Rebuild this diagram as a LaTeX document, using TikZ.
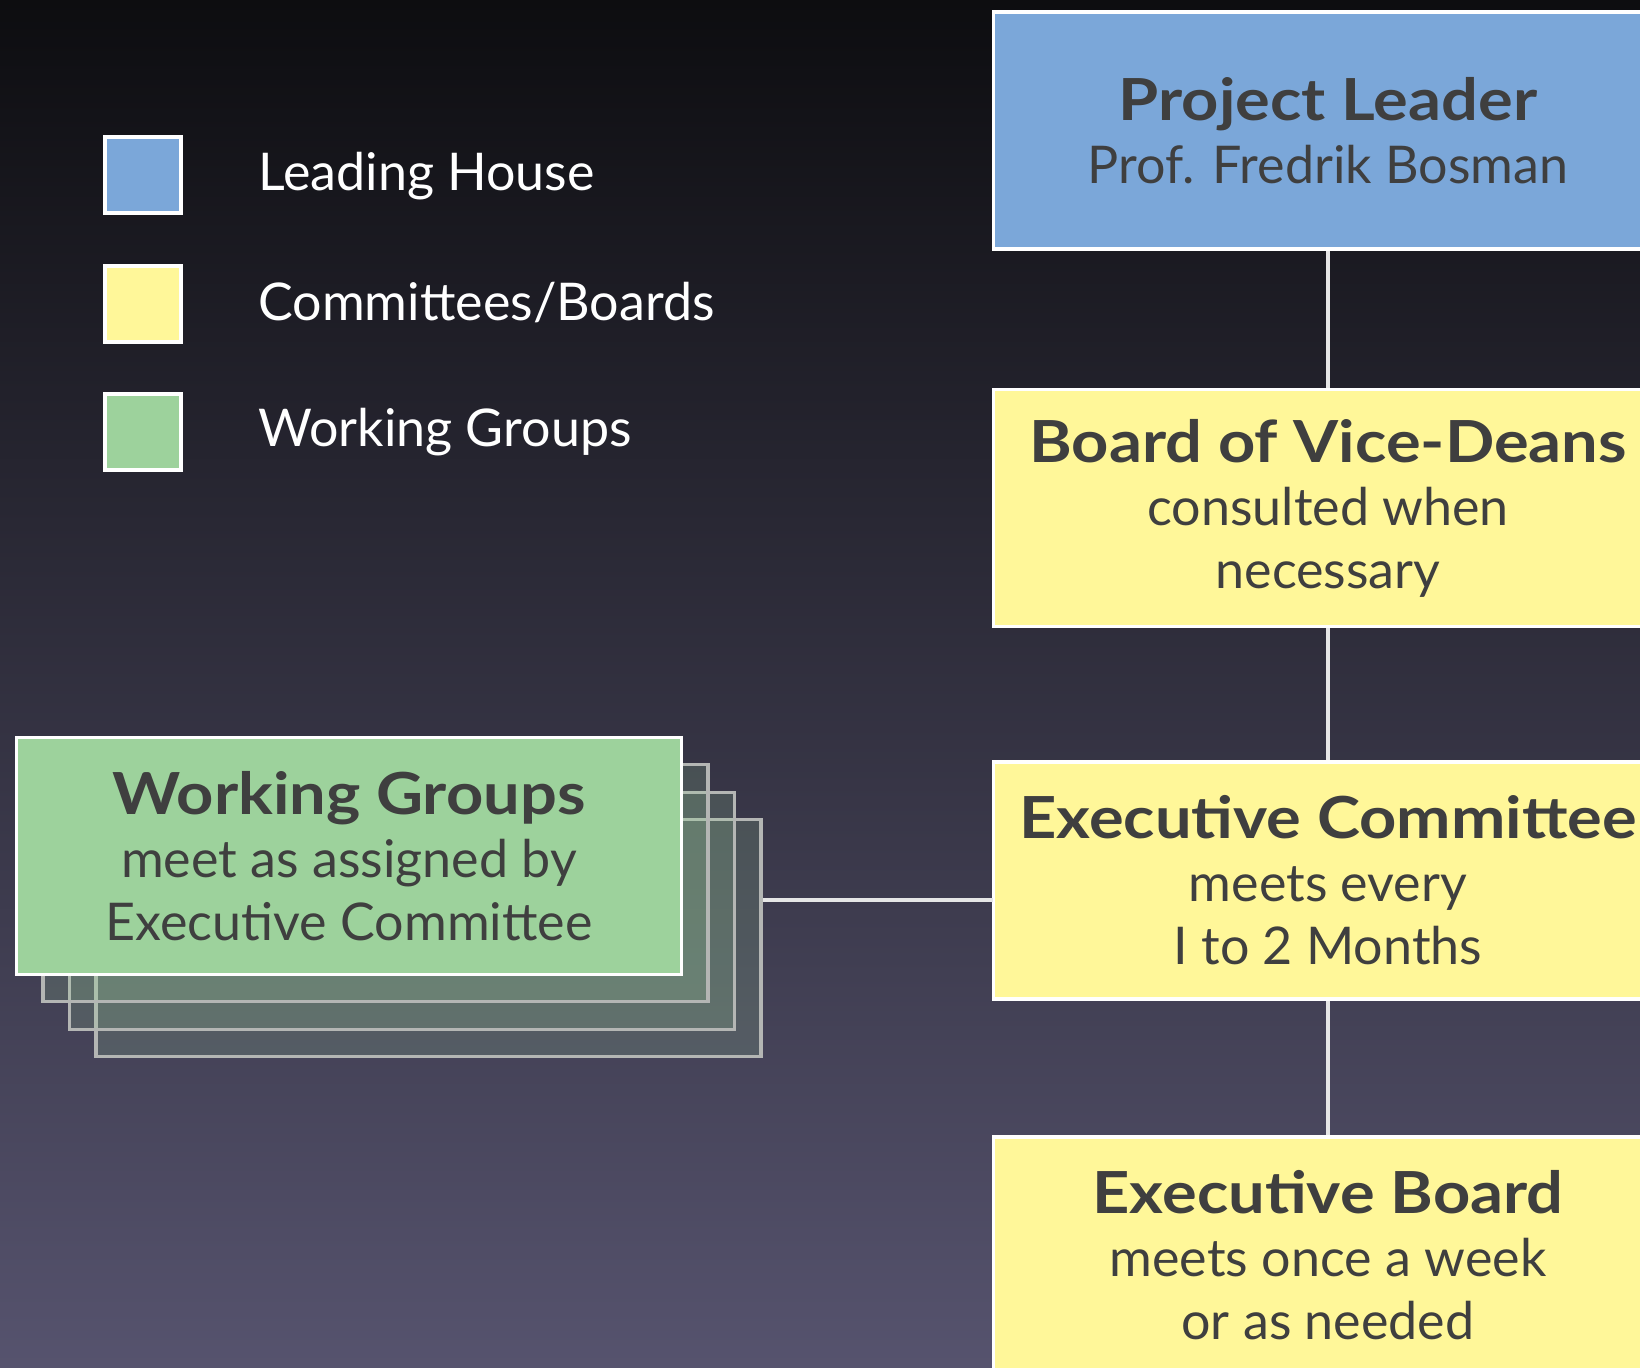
\documentclass[tikz,border=0pt]{standalone}
\usepackage{fontspec}
\setmainfont{Lato}
\newfontfamily\headfam{Lato}[FakeStretch=1.12]
\definecolor{bgtop}{HTML}{0D0D10}
\definecolor{bgbot}{HTML}{56536E}
\definecolor{leadblue}{HTML}{7BA7D9}
\definecolor{boardyellow}{HTML}{FFF799}
\definecolor{wggreen}{HTML}{9DD29C}
\definecolor{txtgray}{HTML}{3F3F3F}
\definecolor{stackline}{HTML}{B4B6B4}
\definecolor{linkgray}{HTML}{E6E6E6}
\newcommand{\headfont}{\headfam\bfseries\fontsize{29}{32}\selectfont}
\begin{document}
\begin{tikzpicture}[x=0.5pt,y=-0.5pt,
  orgbox/.style={draw=white, line width=1.6pt, minimum width=334.5pt, minimum height=118.5pt,
    inner sep=0pt, align=center, text=txtgray, font=\fontsize{26}{31.5}\selectfont},
  wgbox/.style={orgbox, fill=wggreen, minimum width=332.5pt, minimum height=118.5pt},
  stackbox/.style={draw=stackline, line width=1.8pt, fill=wggreen, fill opacity=0.18,
    minimum width=332.5pt, minimum height=118.5pt, inner sep=0pt},
  legsq/.style={draw=white, line width=2pt, minimum width=38pt, minimum height=38pt, inner sep=0pt},
  legtxt/.style={anchor=west, text=white, font=\fontsize{26}{30}\selectfont, inner sep=0pt},
  link/.style={draw=linkgray, line width=2pt}]
\useasboundingbox (0,0) rectangle (1640,1367);
\clip (0,0) rectangle (1640,1367);
\shade[top color=bgtop, bottom color=bgbot] (0,0) rectangle (1640,1367);

% legend
\node[legsq, fill=leadblue] (lg1) at (143,175) {};
\node[legsq, fill=boardyellow] (lg2) at (143,304) {};
\node[legsq, fill=wggreen] (lg3) at (143,431.5) {};
\node[legtxt] (lt1) at (258,176) {Leading House};
\node[legtxt] (lt2) at (258,303) {Committees/Boards};
\node[legtxt] (lt3) at (258,432) {Working Groups};

% hierarchy
\node[orgbox, fill=leadblue] (pl) at (1328,130.5) {{\headfont Project Leader}\\Prof. Fredrik Bosman};
\node[orgbox, fill=boardyellow] (bvd) at (1328,508) {{\headfont Board of Vice-Deans}\\consulted when\\necessary};
\node[orgbox, fill=boardyellow] (ec) at (1328,880.5) {{\headfont Executive Committee}\\meets every\\I to 2 Months};
\node[orgbox, fill=boardyellow] (eb) at (1328,1255.5) {{\headfont Executive Board}\\meets once a week\\or as needed};

\draw[link] (pl.south) -- (bvd.north);
\draw[link] (bvd.south) -- (ec.north);
\draw[link] (ec.south) -- (eb.north);

% working groups stack
\node[stackbox] (wg4) at (428.5,938) {};
\node[stackbox] (wg3) at (402,911) {};
\node[stackbox] (wg2) at (375.5,883) {};
\node[wgbox] (wg) at (349,856) {{\headfont Working Groups}\\meet as assigned by\\Executive Committee};

\coordinate (jn) at (993,900);
\draw[link] (jn -| wg4.east) -- (jn);
\end{tikzpicture}
\end{document}
